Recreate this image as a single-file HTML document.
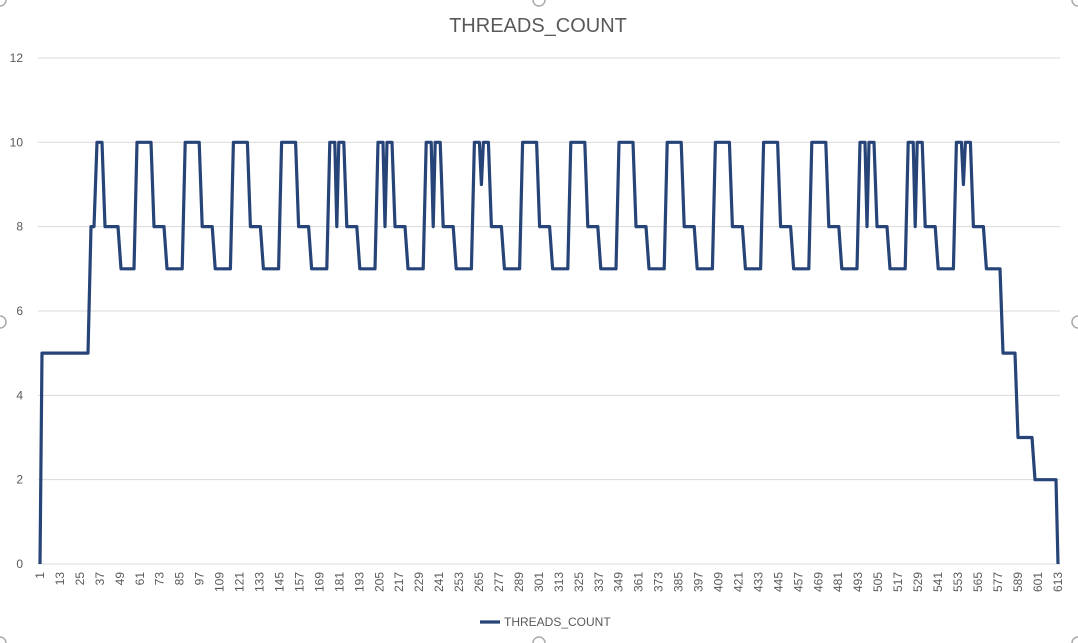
<!DOCTYPE html>
<html><head><meta charset="utf-8"><style>
html,body{margin:0;padding:0;background:#fff;}
svg{display:block;font-family:"Liberation Sans",sans-serif;}
</style></head><body>
<svg id="s" width="1078" height="643" viewBox="0 0 1078 643" xmlns="http://www.w3.org/2000/svg">
<rect width="1078" height="643" fill="#fff"/>
<text x="538" y="32" text-anchor="middle" font-size="20" fill="#595959">THREADS_COUNT</text>
<g id="grid"></g>
<g id="lab" font-size="12" fill="#595959"></g>
<polyline id="ln" fill="none" stroke="#264478" stroke-width="3.2" stroke-linejoin="round"/>
<line x1="480" y1="622" x2="500" y2="622" stroke="#264478" stroke-width="3.2"/>
<text x="504" y="626" font-size="12" fill="#595959">THREADS_COUNT</text>
<circle cx="0" cy="0" r="6" fill="none" stroke="#aaa" stroke-width="1.5"/>
<circle cx="1078" cy="0" r="6" fill="none" stroke="#aaa" stroke-width="1.5"/>
<circle cx="0" cy="322" r="6" fill="none" stroke="#aaa" stroke-width="1.5"/>
<circle cx="1078" cy="322" r="6" fill="none" stroke="#aaa" stroke-width="1.5"/>
<circle cx="539" cy="643" r="6" fill="none" stroke="#aaa" stroke-width="1.5"/>
<circle cx="1078" cy="643" r="6" fill="none" stroke="#aaa" stroke-width="1.5"/>
<circle cx="0" cy="643" r="6" fill="none" stroke="#aaa" stroke-width="1.5"/>
<circle cx="539" cy="0" r="6" fill="none" stroke="#aaa" stroke-width="1.5"/>
</svg>
<script>
var ns="http://www.w3.org/2000/svg";
function Y(v){return 564-42.17*v;}
var g=document.getElementById('grid'),lab=document.getElementById('lab');
for(var v=0;v<=12;v+=2){
 var l=document.createElementNS(ns,'line');
 l.setAttribute('x1',38);l.setAttribute('x2',1060);l.setAttribute('y1',Y(v));l.setAttribute('y2',Y(v));
 l.setAttribute('stroke','#d9d9d9');l.setAttribute('stroke-width',1);g.appendChild(l);
 var t=document.createElementNS(ns,'text');t.setAttribute('x',23);t.setAttribute('y',Y(v)+4);
 t.setAttribute('text-anchor','end');t.textContent=v;lab.appendChild(t);
}
for(var i=1;i<=613;i+=12){
 var x=40+(i-1)*1.663;
 var t=document.createElementNS(ns,'text');
 t.setAttribute('transform','translate('+(x+4)+',572) rotate(-90)');
 t.setAttribute('text-anchor','end');t.textContent=i;lab.appendChild(t);
}
var p=[[40,0],[42,5],[88,5],[91,8],[94,8],[97,10],[102,10],[105,8],[118,8],[121,7]];
var dips={4:8,5:8,6:8,7:9,15:8,16:8,17:9};
for(var k=0;k<18;k++){
 var x0=134+48.2*k;
 p.push([x0,7],[x0+3,10]);
 if(dips[k]){p.push([x0+8,10],[x0+10,dips[k]],[x0+12,10]);}
 p.push([x0+17,10],[x0+20,8],[x0+30,8],[x0+33,7]);
}
p.push([1000,7],[1003,5],[1015,5],[1018,3],[1032,3],[1035,2],[1056,2],[1058,0]);
document.getElementById('ln').setAttribute('points',p.map(function(a){return a[0].toFixed(1)+','+Y(a[1]).toFixed(1)}).join(' '));
</script>
</body></html>
